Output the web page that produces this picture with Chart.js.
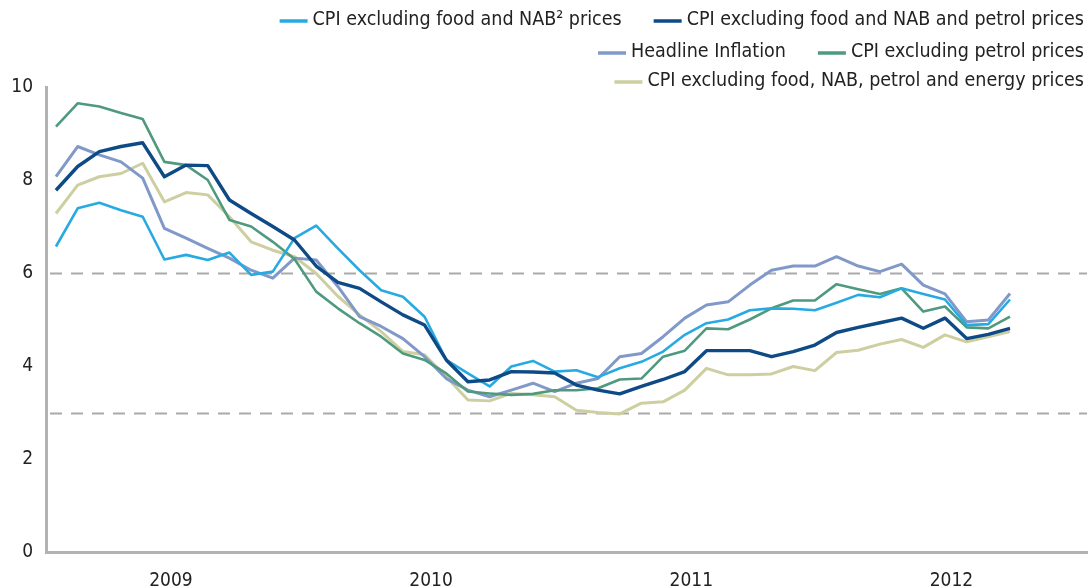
<!DOCTYPE html>
<html>
<head>
<meta charset="utf-8">
<script src="https://cdn.jsdelivr.net/npm/chart.js@4.4.1/dist/chart.umd.min.js"></script>
<style>
html,body{margin:0;padding:0;background:#fff;}
#wrap{position:relative;width:1089px;height:588px;}
</style>
</head>
<body>
<div id="wrap"><canvas id="c" width="1089" height="588"></canvas></div>
<script>
// Monthly observations, Jan 2009 .. Sep 2012 (index 0..44)
const months = Array.from({length: 45}, (_, i) => i);
const yearLabels = ['2009', '2010', '2011', '2012'];
const refLines = [6, 3];

const exFoodNab = [6.57,7.39,7.51,7.35,7.21,6.29,6.39,6.28,6.44,5.96,6.03,6.75,7.02,6.53,6.06,5.63,5.49,5.06,4.13,3.84,3.56,3.99,4.11,3.88,3.91,3.76,3.95,4.09,4.31,4.67,4.92,5.00,5.20,5.24,5.23,5.20,5.36,5.53,5.48,5.67,5.55,5.43,4.88,4.90,5.43];
const exFoodNabPetrol = [7.78,8.29,8.61,8.72,8.80,8.07,8.32,8.31,7.57,7.28,7.00,6.71,6.15,5.80,5.67,5.38,5.10,4.88,4.13,3.66,3.70,3.88,3.87,3.85,3.59,3.48,3.40,3.56,3.71,3.88,4.33,4.33,4.33,4.20,4.31,4.45,4.72,4.83,4.93,5.03,4.81,5.03,4.59,4.68,4.81];
const headline = [8.07,8.72,8.54,8.39,8.04,6.96,6.75,6.53,6.32,6.06,5.89,6.32,6.28,5.71,5.06,4.85,4.59,4.20,3.73,3.48,3.34,3.48,3.63,3.45,3.63,3.73,4.20,4.27,4.63,5.03,5.31,5.38,5.74,6.06,6.15,6.15,6.35,6.15,6.03,6.19,5.74,5.55,4.95,4.99,5.56];
const exPetrol = [9.15,9.65,9.58,9.44,9.31,8.39,8.32,8.00,7.14,7.00,6.67,6.30,5.60,5.24,4.92,4.63,4.27,4.13,3.84,3.45,3.41,3.38,3.40,3.48,3.48,3.52,3.71,3.73,4.20,4.33,4.81,4.79,5.00,5.24,5.41,5.41,5.76,5.65,5.55,5.67,5.17,5.28,4.83,4.81,5.06];
const exFoodNabPetrolEnergy = [7.28,7.89,8.07,8.14,8.36,7.53,7.73,7.68,7.21,6.67,6.49,6.35,5.99,5.50,5.10,4.74,4.31,4.24,3.77,3.27,3.25,3.41,3.38,3.34,3.05,3.00,2.97,3.20,3.23,3.48,3.95,3.81,3.81,3.83,3.99,3.90,4.29,4.34,4.47,4.57,4.40,4.67,4.52,4.63,4.74];

const seriesNames = [
  'CPI excluding food and NAB\u00B2 prices',
  'CPI excluding food and NAB and petrol prices',
  'Headline Inflation',
  'CPI excluding petrol prices',
  'CPI excluding food, NAB, petrol and energy prices'
];
const seriesData = [exFoodNab, exFoodNabPetrol, headline, exPetrol, exFoodNabPetrolEnergy];
const seriesColors = ['#27aae1', '#0e4a86', '#8199c9', '#4f9a7e', '#cdcfa0'];
const seriesWidths = [2.6, 3.4, 3, 2.6, 3];
const seriesOrder = [1, 0, 3, 2, 4];

const FONT = "'Liberation Sans Narrow', 'DejaVu Sans Condensed', 'Open Sans', sans-serif";

const datasets = seriesNames.map((name, k) => ({
  label: name,
  data: months.map((m, i) => ({x: m, y: seriesData[k][i]})),
  borderColor: seriesColors[k],
  backgroundColor: seriesColors[k],
  borderWidth: seriesWidths[k],
  pointRadius: 0,
  tension: 0,
  fill: false,
  order: seriesOrder[k],
  borderJoinStyle: 'round'
}));

const refLinePlugin = {
  id: 'refLines',
  beforeDatasetsDraw(chart) {
    const ctx = chart.ctx, ys = chart.scales.y, a = chart.chartArea;
    ctx.save();
    ctx.strokeStyle = '#aaaaaa';
    ctx.lineWidth = 2;
    ctx.setLineDash([12, 9]);
    refLines.forEach(v => {
      const py = Math.round(ys.getPixelForValue(v)) + 0.5;
      ctx.beginPath();
      ctx.moveTo(a.left + 4, py);
      ctx.lineTo(a.right, py);
      ctx.stroke();
    });
    ctx.restore();
  }
};

const legendRows = [[0, 1], [2, 3], [4]];
const legendRowY = [20, 52, 81];
const legendPlugin = {
  id: 'customLegend',
  afterDraw(chart) {
    const ctx = chart.ctx;
    ctx.save();
    ctx.font = '19.5px ' + FONT;
    ctx.textBaseline = 'middle';
    ctx.fillStyle = '#222';
    const markW = 28, markGap = 5, itemGap = 32, rightX = 1084;
    legendRows.forEach((row, r) => {
      const widths = row.map(k => markW + markGap + ctx.measureText(seriesNames[k]).width);
      const total = widths.reduce((s, w) => s + w, 0) + itemGap * (row.length - 1);
      let x = rightX - total;
      const y = legendRowY[r];
      row.forEach((k, j) => {
        ctx.strokeStyle = seriesColors[k];
        ctx.lineWidth = 3.5;
        ctx.beginPath();
        ctx.moveTo(x, y + 1);
        ctx.lineTo(x + markW, y + 1);
        ctx.stroke();
        ctx.fillStyle = '#222';
        ctx.textAlign = 'left';
        ctx.fillText(seriesNames[k], x + markW + markGap, y);
        x += widths[j] + itemGap;
      });
    });
    ctx.restore();
  }
};

new Chart(document.getElementById('c'), {
  type: 'line',
  data: { datasets },
  options: {
    responsive: false,
    animation: false,
    devicePixelRatio: 1,
    layout: { padding: { top: 87, right: 2, left: 0, bottom: 0 } },
    plugins: { legend: { display: false }, tooltip: { enabled: false } },
    scales: {
      x: {
        type: 'linear',
        min: -0.46,
        max: 47.55,
        afterBuildTicks(scale) {
          scale.ticks = yearLabels.map((_, k) => ({ value: 12 * k + 5.3 }));
        },
        afterFit(scale) { scale.height = 36; },
        grid: { display: false, drawTicks: false },
        border: { display: true, color: '#b2b2b2', width: 3 },
        ticks: {
          autoSkip: false,
          maxRotation: 0,
          padding: 18,
          color: '#222',
          font: { family: FONT, size: 19 },
          callback(value) {
            const k = Math.round((value - 5.3) / 12);
            return yearLabels[k] !== undefined ? yearLabels[k] : '';
          }
        }
      },
      y: {
        min: 0,
        max: 10,
        afterFit(scale) { scale.width = 46; },
        grid: { display: false, drawTicks: false },
        border: { display: true, color: '#b2b2b2', width: 3 },
        ticks: {
          stepSize: 2,
          padding: 13,
          color: '#222',
          font: { family: FONT, size: 19 }
        }
      }
    }
  },
  plugins: [refLinePlugin, legendPlugin]
});
</script>
</body>
</html>
